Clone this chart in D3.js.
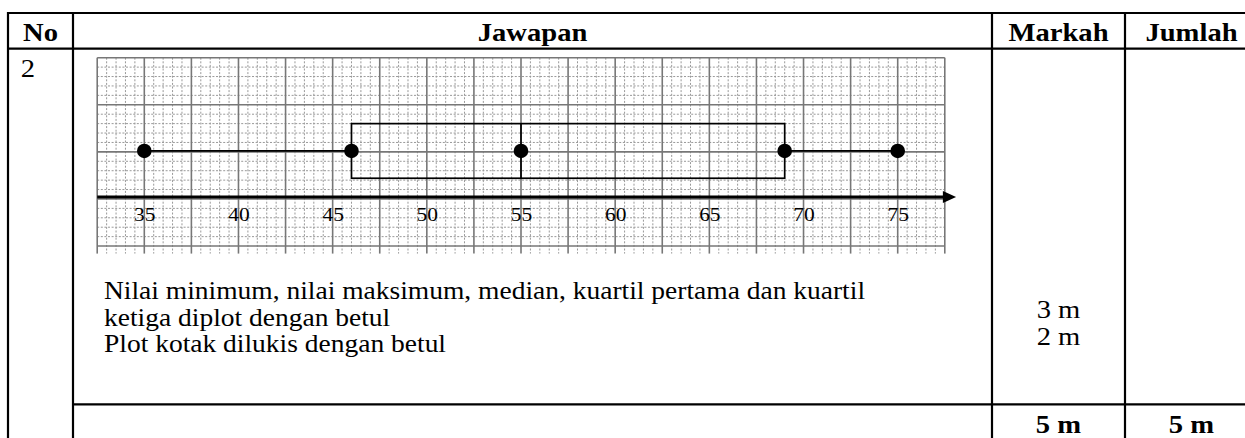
<!DOCTYPE html>
<meta charset="utf-8">
<style>
  body { margin: 0; background: #fff; }
  svg text { font-family: "Liberation Serif", "Times New Roman", serif; fill: #000; }
  .hdr { font-weight: bold; font-size: 26px; text-anchor: middle; }
  .txt { font-size: 25px; }
  .mark { font-size: 26px; text-anchor: middle; }
</style>
<svg width="1245" height="438"></svg>
<script src="https://d3js.org/d3.v7.min.js"></script>
<script>
var headers = ["No", "Jawapan", "Markah", "Jumlah"];
var questionNo = "2";
var tickLabels = [35, 40, 45, 50, 55, 60, 65, 70, 75];
var boxStats = ["min", "q1", "median", "q3", "max"];
var boxValues = [35, 46, 55, 69, 75];
var answerLines = [
  "Nilai minimum, nilai maksimum, median, kuartil pertama dan kuartil",
  "ketiga diplot dengan betul",
  "Plot kotak dilukis dengan betul"
];
var markLines = ["3 m", "2 m"];
var totals = ["5 m", "5 m"];

var svg = d3.select("svg");
var sx = 1.1; // the scanned page is a little wider than tall

function place(sel, fx, fy) {
  sel.attr("x", 0).attr("y", 0)
    .attr("transform", function(d, i) { return "translate(" + fx(d, i) + "," + fy(d, i) + ") scale(" + sx + ",1)"; });
}

// table frame
var colX = [8, 73, 992, 1125, 1258],
    rowTop = 13, hdrBottom = 48.7, sumLine = 404.3, tblBottom = 470;
var frame = svg.append("g").attr("stroke", "#000").attr("stroke-width", 2.2);
frame.append("line").attr("x1", colX[0] - 1).attr("x2", colX[4]).attr("y1", rowTop).attr("y2", rowTop);
frame.append("line").attr("x1", colX[0] - 1).attr("x2", colX[4]).attr("y1", hdrBottom).attr("y2", hdrBottom);
frame.append("line").attr("x1", colX[1]).attr("x2", colX[4]).attr("y1", sumLine).attr("y2", sumLine);
colX.forEach(function(x) {
  frame.append("line").attr("x1", x).attr("x2", x).attr("y1", rowTop - 1).attr("y2", tblBottom);
});

svg.selectAll(".hdr").data(headers).enter().append("text")
  .attr("class", "hdr")
  .text(function(d) { return d; })
  .call(place, function(d, i) { return (colX[i] + colX[i + 1]) / 2; }, function() { return 41; });

svg.append("text").attr("class", "mark").text(questionNo)
  .call(place, function() { return 28; }, function() { return 77; });

// graph paper
var x = d3.scaleLinear().domain([35, 75]).range([144.3, 897.7]);
var unit = x(1) - x(0);
var y = d3.scaleLinear().domain([0, 1]).range([57.7, 57.7 + unit]);
var gx0 = 32.5, gx1 = 77.5, gy0 = 0, gy1 = 10.4;

var grid = svg.append("g");
var eps = 1e-6;
var vMinor = d3.range(gx0, gx1 + eps, 0.5), hMinor = d3.range(gy0, gy1 + eps, 0.5);
function isMajor(v) { return Math.abs(v / 2.5 - Math.round(v / 2.5)) < 1e-3; }

grid.selectAll(".vminor").data(vMinor.filter(function(v) { return !isMajor(v); })).enter().append("line")
  .attr("x1", x).attr("x2", x).attr("y1", y(gy0)).attr("y2", y(gy1))
  .attr("stroke", "#999").attr("stroke-width", 1).attr("stroke-dasharray", "2,1.6");
grid.selectAll(".hminor").data(hMinor.filter(function(v) { return !isMajor(v); })).enter().append("line")
  .attr("y1", y).attr("y2", y).attr("x1", x(gx0)).attr("x2", x(gx1))
  .attr("stroke", "#999").attr("stroke-width", 1).attr("stroke-dasharray", "2,1.6");
grid.selectAll(".vmajor").data(vMinor.filter(isMajor)).enter().append("line")
  .attr("x1", x).attr("x2", x).attr("y1", y(gy0)).attr("y2", y(gy1))
  .attr("stroke", "#777").attr("stroke-width", 1.6);
grid.selectAll(".hmajor").data(hMinor.filter(isMajor)).enter().append("line")
  .attr("y1", y).attr("y2", y).attr("x1", x(gx0)).attr("x2", x(gx1))
  .attr("stroke", "#777").attr("stroke-width", 1.6);

// number line with arrow
var axisY = y(7.4);
svg.append("line").attr("x1", x(gx0)).attr("x2", x(77.7)).attr("y1", axisY).attr("y2", axisY)
  .attr("stroke", "#000").attr("stroke-width", 3);
svg.append("path")
  .attr("d", "M" + x(77.4) + "," + (axisY - 6) + "L" + x(78.1) + "," + axisY + "L" + x(77.4) + "," + (axisY + 6) + "Z")
  .attr("fill", "#000");

var axis = d3.axisBottom(x).tickValues(tickLabels).tickSize(0).tickPadding(0);
var ag = svg.append("g").attr("transform", "translate(0," + y(8.65) + ")").call(axis)
  .attr("font-family", "Liberation Serif, serif").attr("font-size", 19.5);
ag.select(".domain").remove();
ag.selectAll(".tick text").attr("dy", 0).attr("y", 0).attr("fill", "#222")
  .attr("transform", "scale(" + sx + ",1)");

// box plot
var v = {};
boxStats.forEach(function(k, i) { v[k] = boxValues[i]; });
var wy = y(4.95), bTop = y(3.5), bBot = y(6.4);
var bp = svg.append("g").attr("stroke", "#000").attr("stroke-width", 1.7).attr("fill", "none");
bp.append("line").attr("x1", x(v.min)).attr("x2", x(v.q1)).attr("y1", wy).attr("y2", wy);
bp.append("line").attr("x1", x(v.q3)).attr("x2", x(v.max)).attr("y1", wy).attr("y2", wy);
bp.append("rect").attr("x", x(v.q1)).attr("y", bTop).attr("width", x(v.q3) - x(v.q1)).attr("height", bBot - bTop);
bp.append("line").attr("x1", x(v.median)).attr("x2", x(v.median)).attr("y1", bTop).attr("y2", bBot);
svg.selectAll(".pt").data(boxValues).enter().append("circle")
  .attr("cx", function(d) { return x(d); }).attr("cy", wy).attr("r", 7.3).attr("fill", "#000");

// criteria text
svg.selectAll(".txt").data(answerLines).enter().append("text")
  .attr("class", "txt")
  .text(function(d) { return d; })
  .call(place, function() { return 104; }, function(d, i) { return 299 + i * 26.5; });

svg.selectAll(".mk").data(markLines).enter().append("text")
  .attr("class", "mark")
  .text(function(d) { return d; })
  .call(place, function() { return (colX[2] + colX[3]) / 2; }, function(d, i) { return 318 + i * 26.5; });

svg.selectAll(".tot").data(totals).enter().append("text")
  .attr("class", "hdr")
  .text(function(d) { return d; })
  .call(place, function(d, i) { return (colX[i + 2] + colX[i + 3]) / 2; }, function() { return 433; });
</script>
